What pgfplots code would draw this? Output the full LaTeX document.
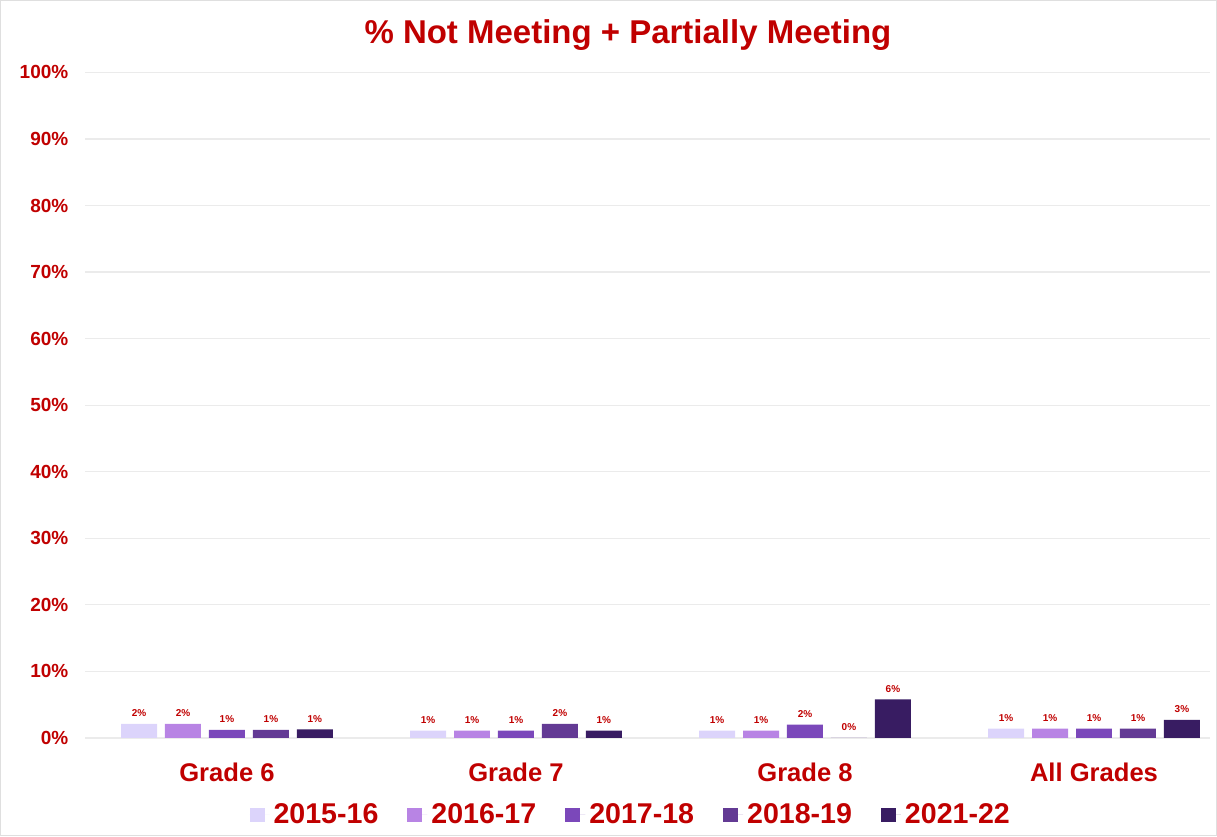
\documentclass[border=0pt]{standalone}
\usepackage{pgfplots}
\pgfplotsset{compat=1.18}
\usepackage{fontspec}
\setmainfont{Liberation Sans}
\definecolor{tred}{HTML}{C00000}
\definecolor{cA}{HTML}{DCD4FB}
\definecolor{cB}{HTML}{B884E4}
\definecolor{cC}{HTML}{7B48BA}
\definecolor{cD}{HTML}{633A94}
\definecolor{cE}{HTML}{381C62}
\definecolor{gridc}{HTML}{EBEBEB}
\begin{document}
\begin{tikzpicture}[x=0.5pt,y=0.5pt]
\path[use as bounding box, draw=gray!25] (0,0) rectangle (1217,836);
\node[font=\bfseries\fontsize{16.5}{20}\selectfont, text=tred] at (628,801) {\% Not Meeting + Partially Meeting};
\begin{axis}[
  at={(42.5pt,49pt)}, anchor=south west,
  scale only axis, width=562.5pt, height=333pt,
  ybar=4pt, bar width=18pt,
  xmin=-0.49, xmax=3.4, ymin=0, ymax=100,
  xtick={0,1,2,3}, xticklabels={Grade 6, Grade 7, Grade 8, All Grades},
  ytick={0,10,...,100},
  yticklabel={\pgfmathprintnumber{\tick}\%},
  /pgf/number format/assume math mode=true,
  major tick length=0pt,
  axis x line*=bottom, axis y line*=left,
  y axis line style={draw=none},
  x axis line style={draw=gridc, line width=0.8pt},
  ymajorgrids, grid style={draw=gridc, line width=0.6pt},
  xticklabel style={font=\bfseries\fontsize{12.8}{15}\selectfont, text=tred, yshift=-9pt},
  yticklabel style={font=\bfseries\fontsize{9.5}{11}\selectfont, text=tred, xshift=-5pt},
  nodes near coords={\pgfmathprintnumber[fixed,precision=0]{\pgfplotspointmeta}\%},
  point meta=y,
  every node near coord/.append style={font=\bfseries\fontsize{5}{6}\selectfont, text=tred, yshift=0pt},
  legend style={at={(0.486,-0.1156)}, anchor=center, draw=none, fill=none, legend columns=5,
    font=\bfseries\fontsize{14.3}{17}\selectfont, text=tred,
    /tikz/every even column/.append style={column sep=12.5pt}},
  legend image code/.code={\fill[#1] (0pt,-3.6pt) rectangle (7.5pt,3.2pt); \path (0pt,0pt) -- (10pt,0pt);},
  clip=false,
]
\addplot[fill=cA, draw=none] coordinates {(0,2.1) (1,1.1) (2,1.1) (3,1.4)};
\addplot[fill=cB, draw=none] coordinates {(0,2.1) (1,1.1) (2,1.1) (3,1.4)};
\addplot[fill=cC, draw=none] coordinates {(0,1.2) (1,1.1) (2,2.0) (3,1.4)};
\addplot[fill=cD, draw=none] coordinates {(0,1.2) (1,2.1) (2,0) (3,1.4)};
\addplot[fill=cE, draw=none] coordinates {(0,1.3) (1,1.1) (2,5.8) (3,2.7)};
\legend{2015-16,2016-17,2017-18,2018-19,2021-22}
\end{axis}
\end{tikzpicture}
\end{document}
